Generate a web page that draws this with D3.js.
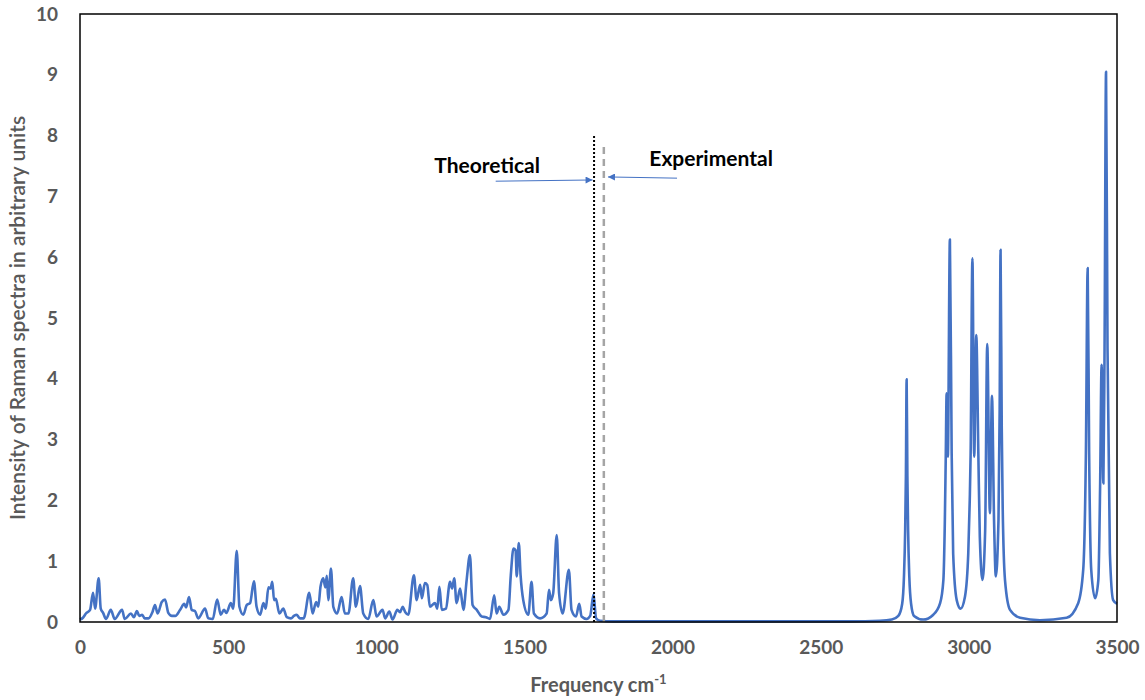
<!DOCTYPE html>
<html>
<head>
<meta charset="utf-8">
<script src="https://cdn.jsdelivr.net/npm/d3@7"></script>
<style>
  body { margin: 0; background: #fff; }
  svg text { font-family: Lato, "Liberation Sans", Arial, sans-serif; }
</style>
</head>
<body>
<div id="chart"></div>
<script>
// spectrum points (cm-1, intensity)
const freq = [
  0, 10, 20, 34, 44, 51, 63, 70, 78, 88, 104, 117, 142, 151, 172, 182, 192, 200, 210, 218,
  231, 245, 253, 262, 276, 287, 298, 310, 322, 338, 352, 358, 368, 377, 388, 399, 422, 433, 448, 463,
  475, 486, 494, 509, 517, 529, 538, 551, 563, 574, 587, 596, 608, 619, 627, 636, 643, 649, 655, 661,
  673, 686, 698, 712, 722, 731, 742, 755, 774, 785, 797, 804, 812, 821, 828, 833, 838, 847, 855, 868,
  883, 894, 906, 922, 931, 945, 956, 973, 990, 1001, 1021, 1030, 1044, 1055, 1071, 1080, 1089, 1098, 1108, 1127,
  1136, 1148, 1154, 1164, 1172, 1181, 1198, 1206, 1213, 1221, 1235, 1249, 1256, 1263, 1271, 1283, 1294, 1305, 1316, 1325,
  1339, 1356, 1370, 1384, 1398, 1406, 1415, 1429, 1446, 1454, 1463, 1470, 1474, 1481, 1487, 1496, 1513, 1524, 1532, 1553,
  1575, 1583, 1589, 1597, 1609, 1617, 1629, 1650, 1659, 1674, 1685, 1693, 1710, 1722, 1733, 1742, 1755, 1800, 2000, 2300,
  2600, 2700, 2740, 2762, 2775, 2781, 2785, 2787.5, 2790, 2792.5, 2795, 2799, 2805, 2815, 2846, 2880, 2903, 2914, 2919, 2922, 2925, 2929,
  2936, 2942, 2947, 2959, 2972, 2987, 2998, 3003, 3006, 3012, 3018, 3025, 3032, 3037, 3046, 3055, 3062, 3071, 3078, 3085,
  3091, 3100, 3104, 3107, 3111, 3114, 3122, 3139, 3173, 3240, 3330, 3369, 3386, 3395, 3401, 3406, 3413, 3426, 3437, 3443,
  3448, 3454, 3458, 3463, 3468, 3476, 3487, 3500
];
const intensity = [
  0.04, 0.07, 0.14, 0.2, 0.48, 0.22, 0.72, 0.22, 0.15, 0.05, 0.2, 0.05, 0.2, 0.05, 0.14, 0.08, 0.18, 0.1, 0.12, 0.06,
  0.06, 0.17, 0.28, 0.14, 0.33, 0.37, 0.15, 0.1, 0.1, 0.2, 0.3, 0.24, 0.41, 0.2, 0.18, 0.06, 0.22, 0.06, 0.05, 0.37,
  0.12, 0.2, 0.15, 0.31, 0.22, 1.17, 0.25, 0.12, 0.28, 0.31, 0.67, 0.25, 0.12, 0.31, 0.22, 0.57, 0.55, 0.66, 0.36, 0.38,
  0.14, 0.22, 0.08, 0.06, 0.1, 0.12, 0.06, 0.06, 0.48, 0.14, 0.33, 0.25, 0.59, 0.72, 0.57, 0.76, 0.36, 0.88, 0.25, 0.14,
  0.41, 0.14, 0.14, 0.72, 0.25, 0.59, 0.14, 0.05, 0.36, 0.09, 0.2, 0.06, 0.17, 0.04, 0.2, 0.16, 0.25, 0.16, 0.12, 0.77,
  0.36, 0.61, 0.39, 0.64, 0.61, 0.25, 0.31, 0.22, 0.58, 0.2, 0.22, 0.66, 0.55, 0.72, 0.31, 0.55, 0.2, 0.69, 1.1, 0.28,
  0.2, 0.09, 0.08, 0.05, 0.44, 0.14, 0.25, 0.12, 0.2, 0.77, 1.21, 1.18, 0.75, 1.3, 0.77, 0.36, 0.12, 0.66, 0.14, 0.06,
  0.14, 0.53, 0.36, 0.47, 1.43, 0.47, 0.14, 0.86, 0.2, 0.09, 0.3, 0.09, 0.05, 0.1, 0.45, 0.06, 0.02, 0.01, 0.01, 0.01,
  0.01, 0.02, 0.04, 0.1, 0.3, 0.75, 1.5, 2.4, 3.99, 2.4, 1.5, 0.75, 0.3, 0.1, 0.04, 0.12, 0.31, 0.69, 1.68, 2.7, 3.76, 2.72,
  6.29, 2.77, 1.13, 0.36, 0.22, 0.42, 1.13, 2.0, 2.77, 5.98, 2.72, 4.72, 2.77, 1.4, 0.69, 1.5, 4.57, 1.79, 3.72, 1.68,
  0.75, 1.68, 3.5, 6.12, 3.2, 1.95, 0.69, 0.2, 0.07, 0.03, 0.07, 0.31, 0.86, 2.77, 5.82, 2.77, 0.86, 0.39, 0.69, 2.23,
  4.23, 2.28, 4.5, 9.05, 4.5, 1.13, 0.36, 0.3
];

const xTicks = [0, 500, 1000, 1500, 2000, 2500, 3000, 3500];
const yTicks = [0, 1, 2, 3, 4, 5, 6, 7, 8, 9, 10];

// marker lines: label, frequency, top intensity
const markerNames = ["Theoretical", "Experimental"];
const markerFreq = [1735, 1768];
const markerTop = [8.0, 7.87];

// arrow annotations in data units: tail -> tip
const arrowFrom = [[1403, 7.25], [2015, 7.3]];
const arrowTo = [[1730, 7.27], [1782, 7.32]];
const labelAt = [[1374, 7.39], [2130, 7.5]];

const width = 1145, height = 700;
const margin = {top: 14, right: 28, bottom: 78, left: 80};

const svg = d3.select("#chart").append("svg")
  .attr("width", width)
  .attr("height", height);

const x = d3.scaleLinear().domain([0, 3500]).range([margin.left, width - margin.right]);
const y = d3.scaleLinear().domain([0, 10]).range([height - margin.bottom, margin.top]);

const grey = "#595959";
const blue = "#4472c4";

// axes (labels only, no tick marks)
const xAxis = svg.append("g")
  .attr("transform", `translate(0,${height - margin.bottom})`)
  .call(d3.axisBottom(x).tickValues(xTicks).tickFormat(d3.format("d")).tickSize(0).tickPadding(19));
const yAxis = svg.append("g")
  .attr("transform", `translate(${margin.left},0)`)
  .call(d3.axisLeft(y).tickValues(yTicks).tickSize(0).tickPadding(22));
[xAxis, yAxis].forEach(g => {
  g.select(".domain").remove();
  g.selectAll("text")
    .style("font-size", "19px")
    .style("font-weight", "bold")
    .attr("fill", grey);
});

// spectrum
const pts = freq.map((f, i) => [f, intensity[i]]);
const line = d3.line()
  .x(d => x(d[0]))
  .y(d => y(d[1]))
  .curve(d3.curveMonotoneX);

svg.append("path")
  .datum(pts)
  .attr("fill", "none")
  .attr("stroke", blue)
  .attr("stroke-width", 2.6)
  .attr("stroke-linejoin", "round")
  .attr("d", line);

// theoretical / experimental lines
svg.append("line")
  .attr("x1", x(markerFreq[0])).attr("x2", x(markerFreq[0]))
  .attr("y1", y(0)).attr("y2", y(markerTop[0]))
  .attr("stroke", "#000")
  .attr("stroke-width", 2)
  .attr("stroke-dasharray", "2,2");
svg.append("line")
  .attr("x1", x(markerFreq[1])).attr("x2", x(markerFreq[1]))
  .attr("y1", y(0)).attr("y2", y(markerTop[1]))
  .attr("stroke", "#a5a5a5")
  .attr("stroke-width", 2.5)
  .attr("stroke-dasharray", "7,5");

// arrowhead
svg.append("defs").append("marker")
  .attr("id", "head")
  .attr("viewBox", "0 0 10 10")
  .attr("refX", 10).attr("refY", 5)
  .attr("markerWidth", 9).attr("markerHeight", 7)
  .attr("markerUnits", "userSpaceOnUse")
  .attr("orient", "auto")
  .append("path")
  .attr("d", "M0,0L10,5L0,10Z")
  .attr("fill", blue);

for (let i = 0; i < 2; i++) {
  svg.append("line")
    .attr("x1", x(arrowFrom[i][0])).attr("y1", y(arrowFrom[i][1]))
    .attr("x2", x(arrowTo[i][0])).attr("y2", y(arrowTo[i][1]))
    .attr("stroke", blue)
    .attr("stroke-width", 1)
    .attr("marker-end", "url(#head)");
  svg.append("text")
    .attr("x", x(labelAt[i][0]))
    .attr("y", y(labelAt[i][1]))
    .attr("text-anchor", "middle")
    .style("font-size", "21px")
    .style("font-weight", "bold")
    .attr("fill", "#000")
    .text(markerNames[i]);
}

// plot frame
svg.append("rect")
  .attr("x", margin.left)
  .attr("y", margin.top)
  .attr("width", width - margin.left - margin.right)
  .attr("height", height - margin.top - margin.bottom)
  .attr("fill", "none")
  .attr("stroke", "#000")
  .attr("stroke-width", 1.5);

// axis titles
const xt = svg.append("text")
  .attr("x", (margin.left + width - margin.right) / 2)
  .attr("y", 692)
  .attr("text-anchor", "middle")
  .style("font-size", "20px")
  .style("font-weight", "bold")
  .attr("fill", grey);
xt.append("tspan").text("Frequency cm");
xt.append("tspan").attr("dy", -8).style("font-size", "13px").text("-1");

svg.append("text")
  .attr("transform", `translate(25,${(margin.top + height - margin.bottom) / 2}) rotate(-90)`)
  .attr("text-anchor", "middle")
  .style("font-size", "21px")
  .style("font-weight", "600")
  .attr("fill", grey)
  .text("Intensity of Raman spectra in arbitrary units");
</script>
</body>
</html>
